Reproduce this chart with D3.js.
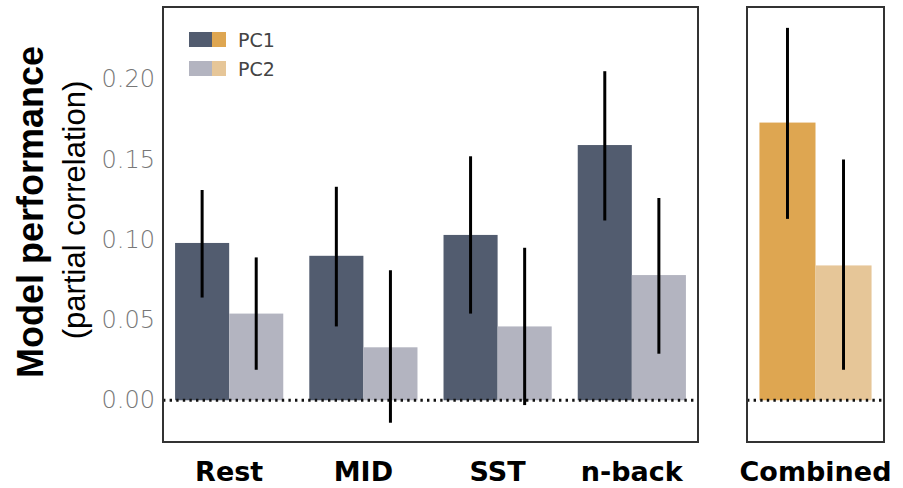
<!DOCTYPE html>
<html>
<head>
<meta charset="utf-8">
<script src="https://cdn.jsdelivr.net/npm/d3@7"></script>
<style>
  body { margin: 0; background: #fff; }
</style>
</head>
<body>
<div id="chart"></div>
<script>
// categories and series
const tasks = ["Rest", "MID", "SST", "n-back"];
const combined = ["Combined"];
const series = ["PC1", "PC2"];

// mean values per task (PC1, PC2)
const pc1Values = [0.098, 0.090, 0.103, 0.159];
const pc2Values = [0.054, 0.033, 0.046, 0.078];
// error bar extents
const pc1Low  = [0.064, 0.046, 0.054, 0.112];
const pc1High = [0.131, 0.133, 0.152, 0.205];
const pc2Low  = [0.019, -0.014, -0.003, 0.029];
const pc2High = [0.089, 0.081, 0.095, 0.126];

// combined model
const combValues = [0.173, 0.084];
const combLow = [0.113, 0.019];
const combHigh = [0.232, 0.150];

const yTicks = [0.00, 0.05, 0.10, 0.15, 0.20];

const width = 903, height = 488;
const svg = d3.select("#chart").append("svg")
    .attr("width", width)
    .attr("height", height);

const y = d3.scaleLinear().domain([-0.026, 0.245]).range([442, 7]);

// left panel x scale
const xTask = d3.scaleBand().domain(tasks).range([163, 698]).paddingInner(0.194).paddingOuter(0.09);
const xSub = d3.scaleBand().domain(series).range([0, xTask.bandwidth()]);

const xComb = d3.scaleBand().domain(combined).range([747, 884]).paddingOuter(0.111);
const xSubC = d3.scaleBand().domain(series).range([0, xComb.bandwidth()]);

const greyColors = ["#525c6f", "#b3b4c0"];
const orangeColors = ["#dea651", "#e6c698"];

function drawPanel(x, sub, cats, vals, lows, highs, colors, x0, x1) {
    const g = svg.append("g");
    const rows = [];
    cats.forEach((c, i) => {
        series.forEach((s, j) => {
            rows.push({ cat: c, s: s, v: vals[j][i], lo: lows[j][i], hi: highs[j][i], color: colors[j] });
        });
    });
    g.selectAll("rect.bar").data(rows).enter().append("rect")
        .attr("class", "bar")
        .attr("x", d => x(d.cat) + sub(d.s))
        .attr("width", sub.bandwidth())
        .attr("y", d => y(d.v))
        .attr("height", d => y(0) - y(d.v))
        .attr("fill", d => d.color);

    // dotted zero line
    g.append("line")
        .attr("x1", x0).attr("x2", x1)
        .attr("y1", y(0)).attr("y2", y(0))
        .attr("stroke", "#111")
        .attr("stroke-width", 2.8)
        .attr("stroke-dasharray", "2.4 4.2");

    g.selectAll("line.err").data(rows).enter().append("line")
        .attr("class", "err")
        .attr("x1", d => x(d.cat) + sub(d.s) + sub.bandwidth() / 2)
        .attr("x2", d => x(d.cat) + sub(d.s) + sub.bandwidth() / 2)
        .attr("y1", d => y(d.lo))
        .attr("y2", d => y(d.hi))
        .attr("stroke", "#000")
        .attr("stroke-width", 3);

    // frame
    g.append("rect")
        .attr("x", x0).attr("y", 7)
        .attr("width", x1 - x0).attr("height", 435)
        .attr("fill", "none")
        .attr("stroke", "#333")
        .attr("stroke-width", 2);

    // category labels
    g.selectAll("text.cat").data(cats).enter().append("text")
        .attr("class", "cat")
        .attr("x", d => x(d) + x.bandwidth() / 2)
        .attr("y", 481)
        .attr("text-anchor", "middle")
        .attr("font-family", "'DejaVu Sans', sans-serif")
        .attr("font-weight", "bold")
        .attr("font-size", 27)
        .attr("fill", "#000")
        .text(d => d);
}

drawPanel(xTask, xSub, tasks, [pc1Values, pc2Values], [pc1Low, pc2Low], [pc1High, pc2High], greyColors, 163, 698);
drawPanel(xComb, xSubC, combined, [[combValues[0]], [combValues[1]]], [[combLow[0]], [combLow[1]]], [[combHigh[0]], [combHigh[1]]], orangeColors, 747, 884);

// y axis tick labels
const yAxis = d3.axisLeft(y).tickValues(yTicks).tickFormat(d3.format(".2f")).tickSize(0).tickPadding(8);
const ya = svg.append("g").attr("transform", "translate(163,0)").call(yAxis);
ya.select(".domain").remove();
ya.selectAll("text")
    .attr("font-family", "'DejaVu Sans', sans-serif")
    .attr("font-weight", 300)
    .attr("font-size", 24)
    .attr("fill", "#777");

// axis titles
svg.append("text")
    .attr("transform", "translate(43,212) rotate(-90)")
    .attr("text-anchor", "middle")
    .attr("font-family", "'Liberation Sans', Arial, sans-serif")
    .attr("font-weight", "bold")
    .attr("font-size", 36)
    .attr("fill", "#000")
    .text("Model performance");
svg.append("text")
    .attr("transform", "translate(85,210) rotate(-90)")
    .attr("text-anchor", "middle")
    .attr("font-family", "'Liberation Sans', Arial, sans-serif")
    .attr("font-size", 31)
    .attr("fill", "#000")
    .text("(partial correlation)");

// legend
const legend = svg.append("g");
series.forEach((s, i) => {
    const ly = 32 + i * 29;
    legend.append("rect").attr("x", 189).attr("y", ly).attr("width", 23).attr("height", 15).attr("fill", greyColors[i]);
    legend.append("rect").attr("x", 212).attr("y", ly).attr("width", 14).attr("height", 15).attr("fill", orangeColors[i]);
    legend.append("text")
        .attr("x", 238).attr("y", ly + 15)
        .attr("font-family", "'DejaVu Sans', sans-serif")
        .attr("font-size", 19)
        .attr("fill", "#444")
        .text(s);
});
</script>
</body>
</html>
